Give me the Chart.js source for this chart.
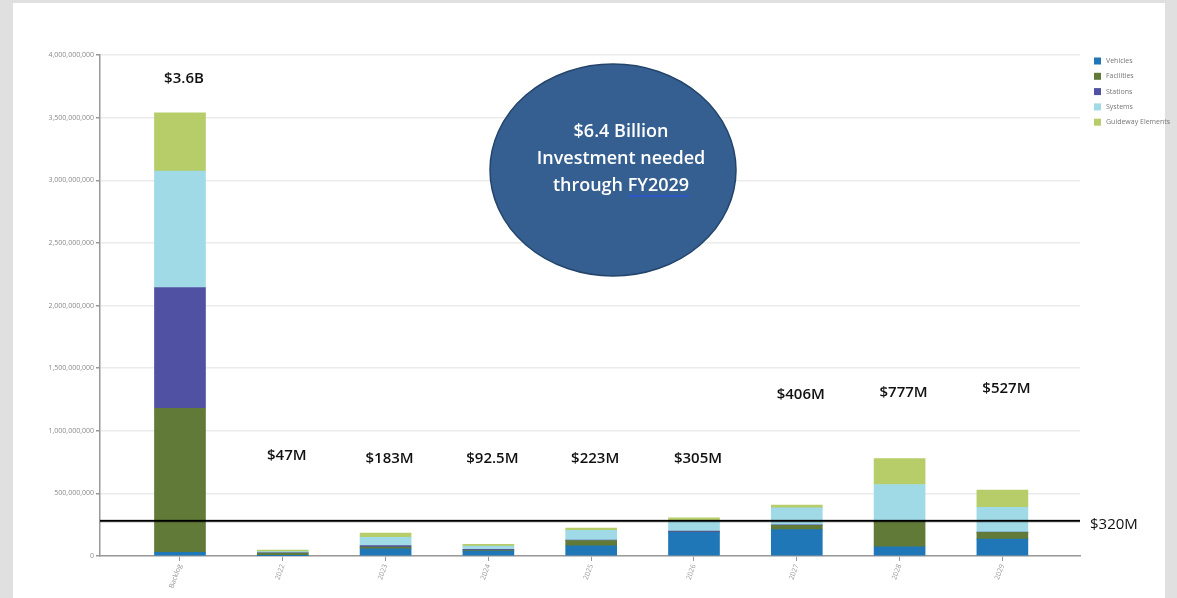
<!DOCTYPE html>
<html>
<head>
<meta charset="utf-8">
<script src="https://cdn.jsdelivr.net/npm/chart.js@4/dist/chart.umd.min.js"></script>
<style>
  html, body { margin: 0; padding: 0; background: #e2e2e2; }
  #wrap { width: 1177px; height: 598px; position: relative; }
</style>
</head>
<body>
<div id="wrap"><canvas id="chart" width="1177" height="598"></canvas></div>
<script>
const categories = ['Backlog', '2022', '2023', '2024', '2025', '2026', '2027', '2028', '2029'];

// values in $ millions
const vehicles   = [30,   2,  58, 40,  82, 188, 210,  74, 135];
const facilities = [1150, 22, 14,  8,  42,   3,  35, 200,  53];
const stations   = [964,  1,  12,  6,   3,   8,   4,   2,   2];
const systems    = [930, 10,  66, 26,  77,  81, 135, 295, 199];
const guideway   = [465, 12,  33, 12.5, 19, 25,  22, 206, 138];

const totalLabels = ['$3.6B', '$47M', '$183M', '$92.5M', '$223M', '$305M', '$406M', '$777M', '$527M'];

const yTicks = [0, 500e6, 1000e6, 1500e6, 2000e6, 2500e6, 3000e6, 3500e6, 4000e6];

const thresholdValue = 280e6;
const thresholdLabel = '$320M';

const calloutLines = ['$6.4 Billion', 'Investment needed', 'through FY2029'];

const seriesNames = ['Vehicles', 'Facilities', 'Stations', 'Systems', 'Guideway Elements'];
const seriesColors = ['#1f77b8', '#617a38', '#5051a3', '#9fdae6', '#b6cd69'];

// where the total labels sit (value units on the y axis)
const labelHeights = [3810e6, 800e6, 775e6, 775e6, 775e6, 775e6, 1285e6, 1305e6, 1335e6];

const seriesValues = [vehicles, facilities, stations, systems, guideway];

const datasets = seriesValues.map((vals, s) => ({
  label: seriesNames[s],
  data: vals.map((v, i) => ({ x: i, y: v * 1e6 })),
  backgroundColor: seriesColors[s],
  borderWidth: 0,
  barThickness: 51
}));

const pageBackground = {
  id: 'pageBackground',
  beforeDraw(chart) {
    const c = chart.ctx;
    c.save();
    c.fillStyle = '#e0e0e0';
    c.fillRect(0, 0, chart.width, chart.height);
    c.fillStyle = '#ffffff';
    c.fillRect(13, 3, 1152, chart.height - 3);
    c.restore();
  }
};

const overlays = {
  id: 'overlays',
  afterDatasetsDraw(chart) {
    const c = chart.ctx;
    const xs = chart.scales.x, ys = chart.scales.y;
    const area = chart.chartArea;
    c.save();

    // threshold line
    const ty = ys.getPixelForValue(thresholdValue);
    c.strokeStyle = 'rgba(0,0,0,0.2)';
    c.lineWidth = 3.5;
    c.beginPath(); c.moveTo(area.left, ty); c.lineTo(area.right, ty); c.stroke();
    c.strokeStyle = '#000';
    c.lineWidth = 1.8;
    c.beginPath(); c.moveTo(area.left, ty); c.lineTo(area.right, ty); c.stroke();
    c.fillStyle = '#111';
    c.font = '15px "Open Sans"';
    c.textAlign = 'left';
    c.textBaseline = 'middle';
    c.fillText(thresholdLabel, area.right + 10, ty + 4);

    // totals
    c.font = '600 15px "Open Sans"';
    c.textAlign = 'center';
    totalLabels.forEach((t, i) => {
      c.fillText(t, xs.getPixelForValue(i) + 4, ys.getPixelForValue(labelHeights[i]));
    });

    // callout ellipse
    const cx = 613, cy = 170;
    c.beginPath();
    c.ellipse(cx, cy, 123, 106, 0, 0, Math.PI * 2);
    c.fillStyle = '#355f90';
    c.fill();
    c.strokeStyle = '#24446b';
    c.lineWidth = 1.5;
    c.stroke();
    c.fillStyle = '#ffffff';
    c.font = '600 18px "Open Sans"';
    c.textBaseline = 'middle';
    calloutLines.forEach((l, k) => c.fillText(l, cx + 8, 132 + k * 27));
    // spellcheck-style underline under FY2029
    const fullW = c.measureText(calloutLines[2]).width;
    const fyW = c.measureText('FY2029').width;
    const ux = cx + 8 + fullW / 2 - fyW;
    c.strokeStyle = '#2b55d8';
    c.lineWidth = 1.5;
    c.beginPath(); c.moveTo(ux, 196); c.lineTo(ux + fyW, 196); c.stroke();

    // legend
    c.textAlign = 'left';
    c.font = '7px "Open Sans"';
    seriesNames.forEach((n, k) => {
      const ly = 61 + k * 15.3;
      c.fillStyle = seriesColors[k];
      c.fillRect(1094, ly - 3.5, 7, 7);
      c.fillStyle = '#777';
      c.fillText(n, 1106, ly);
    });
    c.restore();
  }
};

new Chart(document.getElementById('chart'), {
  type: 'bar',
  data: { datasets },
  plugins: [pageBackground, overlays],
  options: {
    responsive: false,
    animation: false,
    layout: { padding: { left: 0, right: 97, top: 55, bottom: 0 } },
    plugins: { legend: { display: false }, tooltip: { enabled: false } },
    scales: {
      x: {
        type: 'linear',
        stacked: true,
        offset: false,
        min: -0.778,
        max: 8.755,
        afterBuildTicks: scale => { scale.ticks = categories.map((c, i) => ({ value: i })); },
        afterFit: scale => { scale.height = 42; },
        ticks: {
          autoSkip: false,
          minRotation: 70,
          maxRotation: 70,
          callback: v => categories[v],
          color: '#999',
          font: { size: 7, family: 'Open Sans' },
          padding: 2
        },
        grid: { offset: false, drawOnChartArea: false, drawTicks: true, tickLength: 5, color: '#999' },
        border: { color: '#999', width: 1.5 }
      },
      y: {
        stacked: true,
        min: 0,
        max: 4e9,
        afterFit: scale => { scale.width = 100; },
        afterBuildTicks: scale => { scale.ticks = yTicks.map(v => ({ value: v })); },
        ticks: {
          callback: v => v.toLocaleString('en-US'),
          color: '#8a8a8a',
          font: { size: 7, family: 'Open Sans' },
          padding: 2
        },
        grid: { color: '#ebebeb', lineWidth: 1.5, tickLength: 4, tickColor: '#999' },
        border: { color: '#999', width: 1.5 }
      }
    }
  }
});
</script>
</body>
</html>
